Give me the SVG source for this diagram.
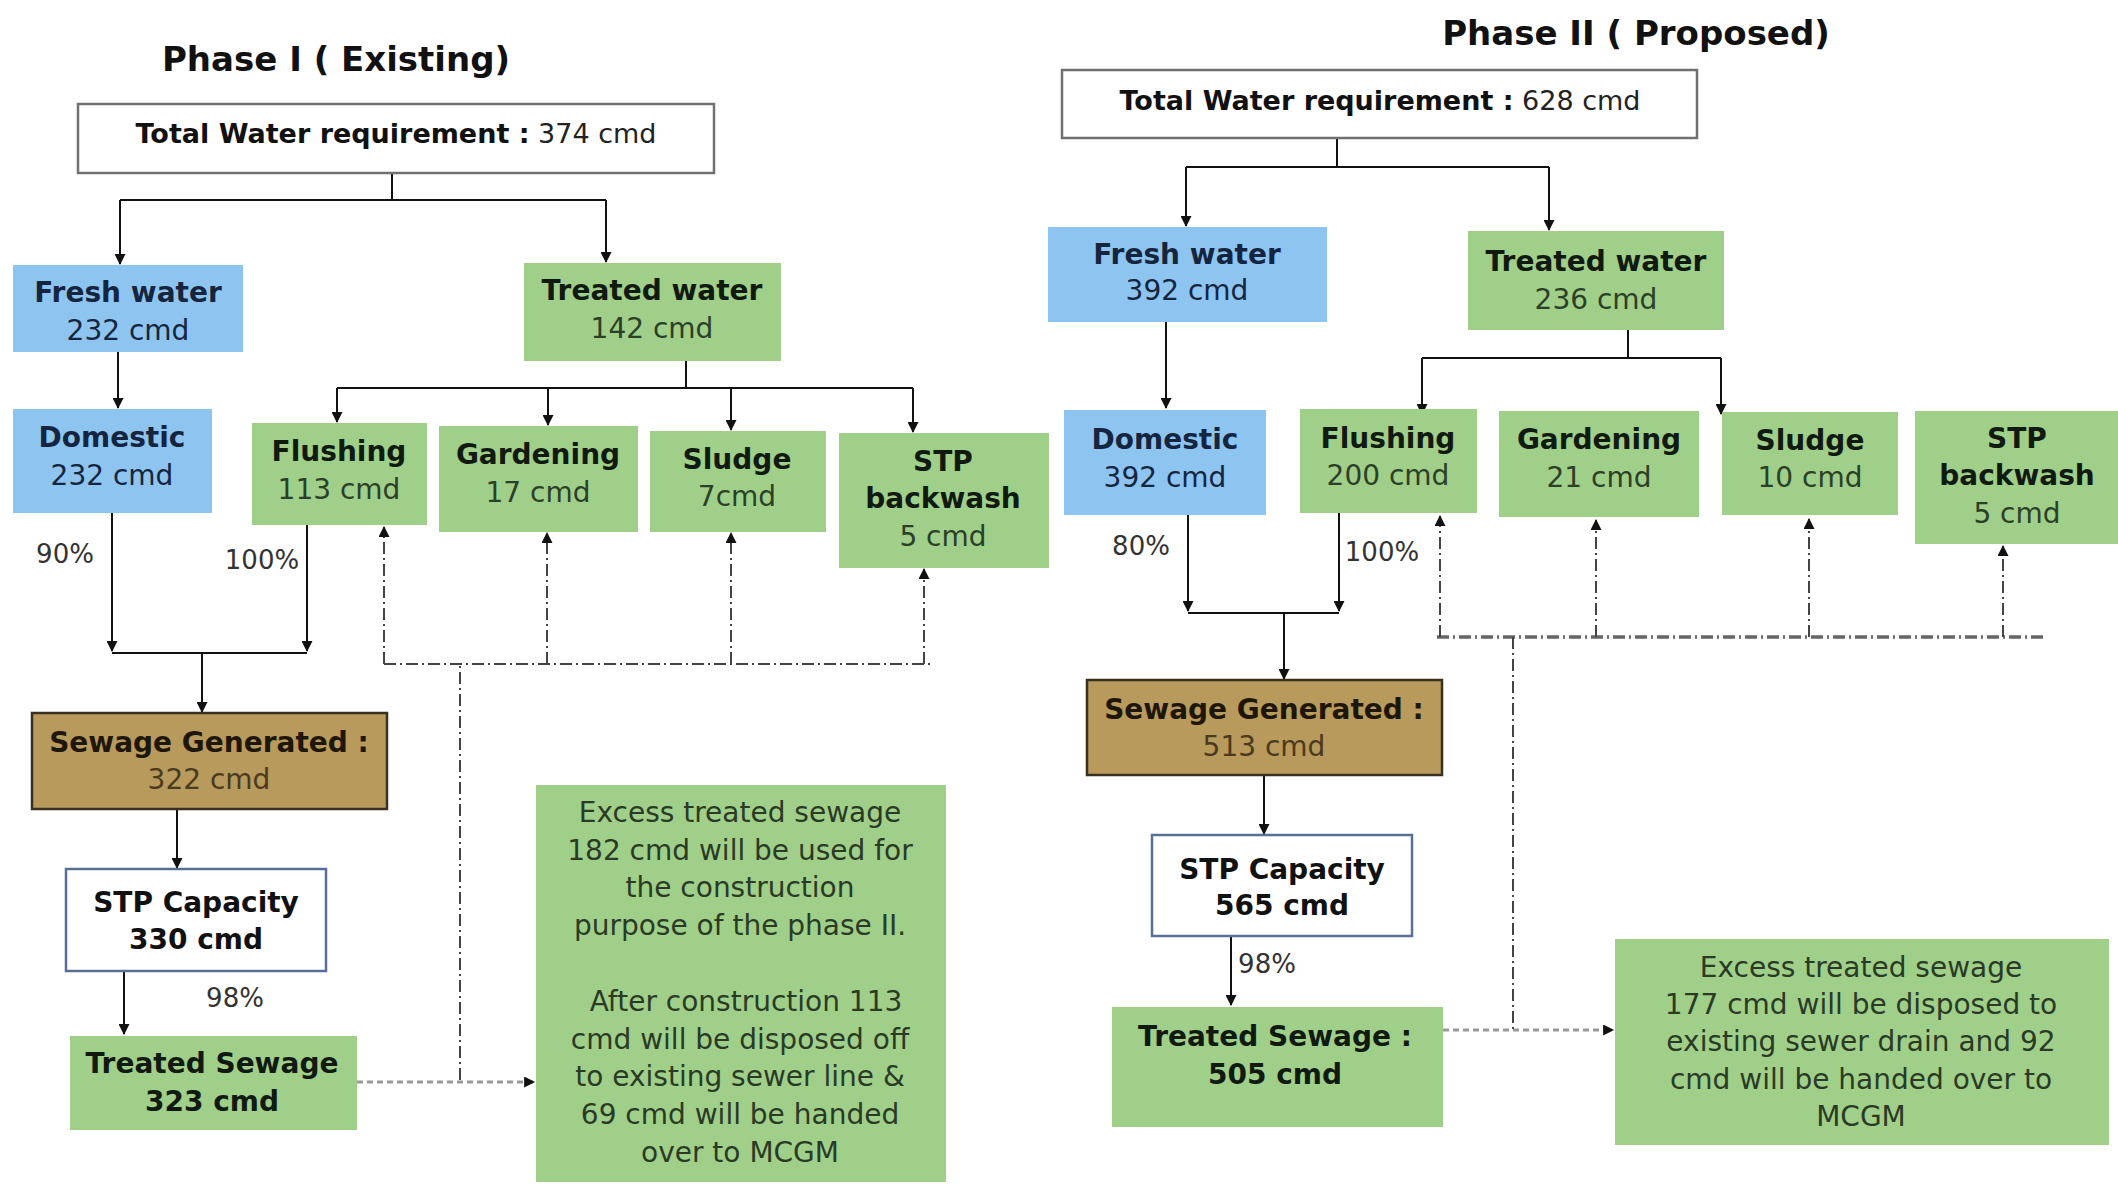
<svg xmlns="http://www.w3.org/2000/svg" width="2118" height="1185" viewBox="0 0 2118 1185">
<defs>
<style>
text{font-family:"DejaVu Sans","Liberation Sans",sans-serif;text-anchor:middle}
.t{font-size:34px;font-weight:bold;fill:#111}
.h{font-size:27px;fill:#222}
.h .bd{font-weight:bold;fill:#111}
.lb{font-size:28px;font-weight:bold}
.lv{font-size:28px}
.blue rect{fill:#8dc5f0}
.blue text{fill:#16253f}
.green rect{fill:#a0cf8a}
.green .lb{fill:#111a10}
.green .lv{fill:#2c3f27}
.brown rect{fill:#b79a5c;stroke:#3a3020;stroke-width:2.5}
.brown .lb{fill:#1e1608}
.brown .lv{fill:#4a3a1e}
.white rect{fill:#fff;stroke:#707070;stroke-width:2.5}
.stp rect{fill:#fff;stroke:#5a6f96;stroke-width:2.5}
.stp text{fill:#111}
.ex{font-size:28px;fill:#2a3a25}
.pc{font-size:26px;fill:#333}
.ln{fill:none;stroke:#111;stroke-width:2}
.ar{fill:none;stroke:#111;stroke-width:2;marker-end:url(#ah)}
.dd{fill:none;stroke:#444;stroke-width:2;stroke-dasharray:12 4 2 4}
.dda{fill:none;stroke:#444;stroke-width:2;stroke-dasharray:12 4 2 4;marker-end:url(#ah)}
.ddh{fill:none;stroke:#666;stroke-width:3.5;stroke-dasharray:12 4 2 4}
.dsh{fill:none;stroke:#999;stroke-width:3;stroke-dasharray:6 4;marker-end:url(#ah)}
</style>
<marker id="ah" viewBox="0 0 10 10" refX="9" refY="5" markerWidth="12" markerHeight="11" markerUnits="userSpaceOnUse" orient="auto">
<path d="M0,0 L10,5 L0,10 Z" fill="#111"/>
</marker>
</defs>
<rect width="2118" height="1185" fill="#fff"/>

<text class="t" x="336" y="71">Phase I ( Existing)</text>
<text class="t" x="1636" y="45">Phase II ( Proposed)</text>

<g id="connectors">
<!-- Phase I -->
<path class="ln" d="M392,173 V200 M120,200 H606"/>
<path class="ar" d="M120,200 V264"/>
<path class="ar" d="M606,200 V262"/>
<path class="ar" d="M118,352 V408"/>
<path class="ln" d="M686,361 V388 M337,388 H913"/>
<path class="ar" d="M337,388 V422"/>
<path class="ar" d="M548,388 V425"/>
<path class="ar" d="M731,388 V430"/>
<path class="ar" d="M913,388 V432"/>
<path class="ar" d="M112,513 V651"/>
<path class="ar" d="M307,525 V651"/>
<path class="ln" d="M112,653 H307"/>
<path class="ar" d="M202,653 V712"/>
<path class="ar" d="M177,809 V868"/>
<path class="ar" d="M124,971 V1034"/>
<path class="dsh" d="M357,1082 H534"/>
<path class="dd" d="M460,1080 V664 M384,664 H932"/>
<path class="dda" d="M384,664 V527"/>
<path class="dda" d="M547,664 V533"/>
<path class="dda" d="M731,664 V533"/>
<path class="dda" d="M924,664 V569"/>
<!-- Phase II -->
<path class="ln" d="M1337,138 V167 M1186,167 H1549"/>
<path class="ar" d="M1186,167 V226"/>
<path class="ar" d="M1549,167 V230"/>
<path class="ar" d="M1166,322 V408"/>
<path class="ln" d="M1628,330 V358 M1422,358 H1721"/>
<path class="ar" d="M1422,358 V414"/>
<path class="ar" d="M1721,358 V414"/>
<path class="ar" d="M1188,515 V611"/>
<path class="ar" d="M1339,513 V611"/>
<path class="ln" d="M1188,613 H1339"/>
<path class="ar" d="M1284,613 V679"/>
<path class="ar" d="M1264,775 V834"/>
<path class="ar" d="M1231,936 V1005"/>
<path class="dsh" d="M1443,1030 H1613"/>
<path class="ddh" d="M1437,637 H2047"/>
<path class="dd" d="M1513,637 V1030"/>
<path class="dda" d="M1440,637 V516"/>
<path class="dda" d="M1596,637 V520"/>
<path class="dda" d="M1809,637 V519"/>
<path class="dda" d="M2003,637 V546"/>
</g>

<!-- Phase I nodes -->
<g id="p1-total" class="white">
<rect x="78" y="104" width="636" height="69"/>
<text class="h" x="396" y="143"><tspan class="bd">Total Water requirement :</tspan> 374 cmd</text>
</g>
<g id="p1-fresh" class="blue">
<rect x="13" y="265" width="230" height="87"/>
<text class="lb" x="128" y="302">Fresh water</text>
<text class="lv" x="128" y="340">232 cmd</text>
</g>
<g id="p1-treated" class="green">
<rect x="524" y="263" width="257" height="98"/>
<text class="lb" x="652" y="300">Treated water</text>
<text class="lv" x="652" y="338">142 cmd</text>
</g>
<g id="p1-domestic" class="blue">
<rect x="13" y="409" width="199" height="104"/>
<text class="lb" x="112" y="447">Domestic</text>
<text class="lv" x="112" y="485">232 cmd</text>
</g>
<g id="p1-flushing" class="green">
<rect x="252" y="423" width="175" height="102"/>
<text class="lb" x="339" y="461">Flushing</text>
<text class="lv" x="339" y="499">113 cmd</text>
</g>
<g id="p1-gardening" class="green">
<rect x="439" y="426" width="199" height="106"/>
<text class="lb" x="538" y="464">Gardening</text>
<text class="lv" x="538" y="502">17 cmd</text>
</g>
<g id="p1-sludge" class="green">
<rect x="650" y="431" width="176" height="101"/>
<text class="lb" x="737" y="469">Sludge</text>
<text class="lv" x="737" y="506">7cmd</text>
</g>
<g id="p1-backwash" class="green">
<rect x="839" y="433" width="210" height="135"/>
<text class="lb" x="943" y="471">STP</text>
<text class="lb" x="943" y="508">backwash</text>
<text class="lv" x="943" y="546">5 cmd</text>
</g>
<g id="p1-sewage" class="brown">
<rect x="32" y="713" width="355" height="96"/>
<text class="lb" x="209" y="752">Sewage Generated :</text>
<text class="lv" x="209" y="789">322 cmd</text>
</g>
<g id="p1-stp" class="stp">
<rect x="66" y="869" width="260" height="102"/>
<text class="lb" x="196" y="912">STP Capacity</text>
<text class="lb" x="196" y="949">330 cmd</text>
</g>
<g id="p1-treatedsewage" class="green">
<rect x="70" y="1036" width="287" height="94"/>
<text class="lb" x="212" y="1073">Treated Sewage</text>
<text class="lb" x="212" y="1111">323 cmd</text>
</g>
<g id="p1-excess" class="green">
<rect x="536" y="785" width="410" height="397"/>
<text class="ex" x="740" y="822">Excess treated sewage</text>
<text class="ex" x="740" y="860">182 cmd will be used for</text>
<text class="ex" x="740" y="897">the construction</text>
<text class="ex" x="740" y="935">purpose of the phase II.</text>
<text class="ex" x="746" y="1011">After construction 113</text>
<text class="ex" x="740" y="1049">cmd will be disposed off</text>
<text class="ex" x="740" y="1086">to existing sewer line &amp;</text>
<text class="ex" x="740" y="1124">69 cmd will be handed</text>
<text class="ex" x="740" y="1162">over to MCGM</text>
</g>
<g id="p1-labels">
<text class="pc" x="65" y="563">90%</text>
<text class="pc" x="262" y="569">100%</text>
<text class="pc" x="235" y="1007">98%</text>
</g>

<!-- Phase II nodes -->
<g id="p2-total" class="white">
<rect x="1062" y="70" width="635" height="68"/>
<text class="h" x="1380" y="110"><tspan class="bd">Total Water requirement :</tspan> 628 cmd</text>
</g>
<g id="p2-fresh" class="blue">
<rect x="1048" y="227" width="279" height="95"/>
<text class="lb" x="1187" y="264">Fresh water</text>
<text class="lv" x="1187" y="300">392 cmd</text>
</g>
<g id="p2-treated" class="green">
<rect x="1468" y="231" width="256" height="99"/>
<text class="lb" x="1596" y="271">Treated water</text>
<text class="lv" x="1596" y="309">236 cmd</text>
</g>
<g id="p2-domestic" class="blue">
<rect x="1064" y="410" width="202" height="105"/>
<text class="lb" x="1165" y="449">Domestic</text>
<text class="lv" x="1165" y="487">392 cmd</text>
</g>
<g id="p2-flushing" class="green">
<rect x="1300" y="409" width="177" height="104"/>
<text class="lb" x="1388" y="448">Flushing</text>
<text class="lv" x="1388" y="485">200 cmd</text>
</g>
<g id="p2-gardening" class="green">
<rect x="1499" y="411" width="200" height="106"/>
<text class="lb" x="1599" y="449">Gardening</text>
<text class="lv" x="1599" y="487">21 cmd</text>
</g>
<g id="p2-sludge" class="green">
<rect x="1722" y="412" width="176" height="103"/>
<text class="lb" x="1810" y="450">Sludge</text>
<text class="lv" x="1810" y="487">10 cmd</text>
</g>
<g id="p2-backwash" class="green">
<rect x="1915" y="411" width="203" height="133"/>
<text class="lb" x="2017" y="448">STP</text>
<text class="lb" x="2017" y="485">backwash</text>
<text class="lv" x="2017" y="523">5 cmd</text>
</g>
<g id="p2-sewage" class="brown">
<rect x="1087" y="680" width="355" height="95"/>
<text class="lb" x="1264" y="719">Sewage Generated :</text>
<text class="lv" x="1264" y="756">513 cmd</text>
</g>
<g id="p2-stp" class="stp">
<rect x="1152" y="835" width="260" height="101"/>
<text class="lb" x="1282" y="879">STP Capacity</text>
<text class="lb" x="1282" y="915">565 cmd</text>
</g>
<g id="p2-treatedsewage" class="green">
<rect x="1112" y="1007" width="331" height="120"/>
<text class="lb" x="1275" y="1046">Treated Sewage :</text>
<text class="lb" x="1275" y="1084">505 cmd</text>
</g>
<g id="p2-excess" class="green">
<rect x="1615" y="939" width="494" height="206"/>
<text class="ex" x="1861" y="977">Excess treated sewage</text>
<text class="ex" x="1861" y="1014">177 cmd will be disposed to</text>
<text class="ex" x="1861" y="1051">existing sewer drain and 92</text>
<text class="ex" x="1861" y="1089">cmd will be handed over to</text>
<text class="ex" x="1861" y="1126">MCGM</text>
</g>
<g id="p2-labels">
<text class="pc" x="1141" y="555">80%</text>
<text class="pc" x="1382" y="561">100%</text>
<text class="pc" x="1267" y="973">98%</text>
</g>
</svg>
